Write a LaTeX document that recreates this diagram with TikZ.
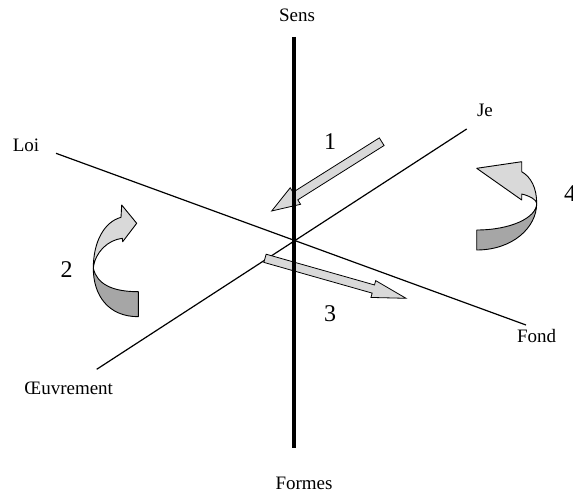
\documentclass[tikz,border=0pt]{standalone}
\usepackage{fontspec}
\setmainfont{Liberation Serif}
\definecolor{lightg}{RGB}{217,217,217}
\definecolor{darkg}{RGB}{166,166,166}
\newcommand\blockarr[7]{%
  \begin{scope}[shift={(#1,#2)},rotate=#3]
    \draw[blockarrow] (0,#5/2) -- (#4-#7,#5/2) -- (#4-#7,#6/2) -- (#4,0)
      -- (#4-#7,-#6/2) -- (#4-#7,-#5/2) -- (0,-#5/2) -- cycle;
  \end{scope}}
\begin{document}
\begin{tikzpicture}[x=1pt,y=-1pt,
  thinline/.style={line width=1.2pt},
  axisline/.style={line width=3.2pt},
  lbl/.style={font=\fontsize{19}{22}\selectfont, inner sep=0pt, anchor=base},
  num/.style={font=\fontsize{24}{28}\selectfont, inner sep=0pt, anchor=base},
  ribbonlight/.style={fill=lightg, draw=black, line width=0.9pt, line join=round},
  ribbondark/.style={fill=darkg, draw=black, line width=0.9pt, line join=round},
  blockarrow/.style={fill=lightg, draw=black, line width=0.8pt, line join=miter}
]
\useasboundingbox (0,0) rectangle (573,492);

% line ends
\coordinate (loiEnd) at (56,153.3);
\coordinate (fondEnd) at (526,325);
\coordinate (oeuvEnd) at (96.7,369.3);
\coordinate (jeEnd) at (466.7,129);
\coordinate (sensEnd) at (294,37);
\coordinate (formesEnd) at (294,448);

% labels
\node[lbl] (sens) at (297,21.7) {Sens};
\node[lbl] (formes) at (304,489.3) {Formes};
\node[lbl] (loi) at (26,151.7) {Loi};
\node[lbl] (je) at (485,116.7) {Je};
\node[lbl] (fond) at (536.7,342.7) {Fond};
\node[lbl] (oeuv) at (68.7,394.3) {Œuvrement};

% numbers
\node[num] (n1) at (330,149.3) {1};
\node[num] (n2) at (66.7,277.3) {2};
\node[num] (n3) at (330,321.7) {3};
\node[num, anchor=base west] (n4) at (564,201.7) {4};

% thin axes
\draw[thinline] (loiEnd) -- (fondEnd);
\draw[thinline] (oeuvEnd) -- (jeEnd);

% curved arrow 2
\draw[ribbondark] (93.3,268.3) .. controls (93.3,295) and (108,316.7) .. (138.3,316.7)
  -- (138.3,291.7) .. controls (112,291.7) and (97,284) .. cycle;
\draw[ribbonlight] (93.3,268.3) .. controls (93.3,242) and (104,222) .. (121,217.3)
  -- (121.7,205) -- (136.7,223.3) -- (122.7,241.7) -- (122.3,238.3)
  .. controls (108,240) and (95,252) .. cycle;

% curved arrow 4
\draw[ribbondark] (536.7,203.3) .. controls (536.7,228) and (512,250) .. (476.7,250)
  -- (476.7,230) .. controls (510,230) and (536.7,218) .. cycle;
\draw[ribbonlight] (536.7,203.3) .. controls (536.7,188) and (531,177) .. (521.7,171.7)
  -- (521.7,161.7) -- (476.7,168.3) -- (521.7,200) -- (521.7,194)
  .. controls (530,196) and (536.7,200) .. cycle;

% straight block arrows
\blockarr{381.7}{141.7}{212.2}{130}{9}{19.5}{28}
\blockarr{265}{258.3}{-15.84}{146.6}{8.5}{17.5}{34}

% thick vertical axis
\draw[axisline] (sensEnd) -- (formesEnd);
\end{tikzpicture}
\end{document}
